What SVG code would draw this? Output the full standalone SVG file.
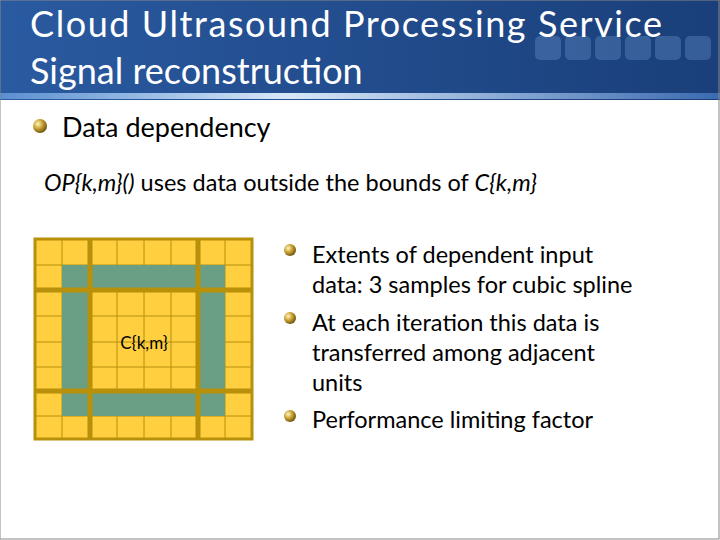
<svg xmlns="http://www.w3.org/2000/svg" width="720" height="540" viewBox="0 0 720 540">
<defs>
<linearGradient id="hdr" x1="0" y1="0" x2="1" y2="0"><stop offset="0" stop-color="#2a5aa0"/><stop offset="1" stop-color="#1a3f7a"/></linearGradient>
<linearGradient id="hl" x1="0" y1="0" x2="1" y2="0"><stop offset="0" stop-color="#5a8fd0"/><stop offset="0.4" stop-color="#d8e8f8"/><stop offset="1" stop-color="#3a6ab0"/></linearGradient>
<radialGradient id="bul" cx="0.35" cy="0.35" r="0.7"><stop offset="0" stop-color="#fff6c0"/><stop offset="0.5" stop-color="#c8a030"/><stop offset="1" stop-color="#6a5010"/></radialGradient>
<style>
text{font-family:Lato,"Open Sans",sans-serif}
.t{fill:#fff;font-size:36px}
.b{fill:#000;font-size:27px}
.s{fill:#000;font-size:23.5px}
.g{fill:#6a9e85}
.k{stroke:#b8900a;stroke-width:5}
</style>
</defs>
<rect width="720" height="540" fill="#fff"/>
<rect x="0" y="0" width="720" height="100" fill="url(#hdr)"/>
<rect x="0" y="93" width="720" height="6" fill="url(#hl)"/>
<g opacity="0.25" fill="#8ab8ee"><rect x="535" y="36" width="26" height="24" rx="5"/><rect x="565" y="36" width="26" height="24" rx="5"/><rect x="595" y="36" width="26" height="24" rx="5"/><rect x="625" y="36" width="26" height="24" rx="5"/><rect x="655" y="36" width="26" height="24" rx="5"/><rect x="685" y="36" width="26" height="24" rx="5"/></g>
<rect x="0" y="0" width="719" height="539" fill="none" stroke="#888"/>
<text class="t" x="30" y="37" textLength="632" lengthAdjust="spacing">Cloud Ultrasound Processing Service</text>
<text class="t" x="30" y="84">Signal reconstruction</text>
<circle cx="40" cy="126" r="7" fill="url(#bul)"/>
<text class="b" x="62" y="137">Data dependency</text>
<text class="s" x="44" y="191"><tspan font-style="italic">OP{k,m}()</tspan> uses data outside the bounds of <tspan font-style="italic">C{k,m}</tspan></text>
<g id="grid">
<rect x="35" y="239" width="217" height="200" fill="#ffcf40"/>
<g stroke="#b8900a" stroke-width="1">
<path d="M62 239V439M117 239V439M144 239V439M171 239V439M225 239V439M35 265H252M35 316H252M35 342H252M35 367H252M35 416H252"/>
</g>
<g class="g">
<rect x="62" y="265" width="163" height="25"/>
<rect x="62" y="391" width="163" height="25"/>
<rect x="62" y="265" width="27" height="151"/>
<rect x="198" y="265" width="27" height="151"/>
</g>
<g class="k"><path d="M90 239V439M198 239V439M35 290H252M35 391H252"/></g>
<rect x="35" y="239" width="217" height="200" fill="none" stroke="#b8900a" stroke-width="3"/>
<text x="144" y="349" font-size="17" text-anchor="middle" fill="#000">C{k,m}</text>
</g>
<g fill="url(#bul)"><circle cx="290" cy="250" r="6"/><circle cx="290" cy="318" r="6"/><circle cx="290" cy="416" r="6"/></g>
<g class="s">
<text x="312" y="263">Extents of  dependent input</text>
<text x="312" y="293">data: 3 samples for cubic spline</text>
<text x="312" y="331">At each iteration this data is</text>
<text x="312" y="361">transferred among adjacent</text>
<text x="312" y="391">units</text>
<text x="312" y="428">Performance limiting factor</text>
</g>
</svg>
